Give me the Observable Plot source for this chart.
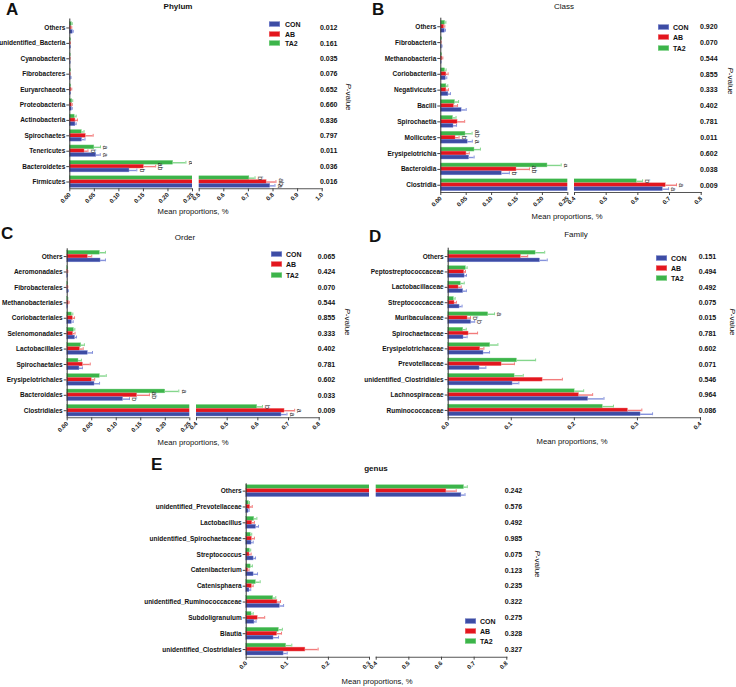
<!DOCTYPE html>
<html><head><meta charset="utf-8">
<script src="https://cdn.jsdelivr.net/npm/d3@7"></script>
<script src="https://cdn.jsdelivr.net/npm/@observablehq/plot@0.6"></script>
<style>
body{margin:0;background:#fff;}
#root{position:relative;width:736px;height:687px;overflow:hidden;font-family:"Liberation Sans",Arial,sans-serif;color:#111;}
.abs{position:absolute;white-space:nowrap;line-height:1;}
.letter{font-size:17px;font-weight:bold;}
.ctr{transform:translate(-50%,-50%);}
.title{font-size:8px;}
.xlab{font-size:7.7px;}
.pv{font-size:8px;writing-mode:vertical-rl;}
.leg{font-size:7px;font-weight:bold;transform:translateY(-50%);}
.sw{position:absolute;width:11px;height:5px;transform:translateY(-50%);}
</style></head><body><div id="root"></div><script>
// ---------- data ----------
const groupNames = ["CON", "AB", "TA2"];

// Phylum
const phylumCats = ["Others","unidentified_Bacteria","Cyanobacteria","Fibrobacteres","Euryarchaeota","Proteobacteria","Actinobacteria","Spirochaetes","Tenericutes","Bacteroidetes","Firmicutes"];
const phylumCON   = [0.006, 0.001, 0.0005, 0.002, 0.001, 0.004, 0.0115, 0.025, 0.054, 0.1216, 0.789];
const phylumCONse = [0.001, 0.0003, 0.0002, 0.0005, 0.0003, 0.001, 0.0015, 0.006, 0.008, 0.015, 0.019];
const phylumAB    = [0.003, 0.001, 0.0005, 0.0005, 0.003, 0.004, 0.0115, 0.0326, 0.030, 0.151, 0.774];
const phylumABse  = [0.001, 0.0003, 0.0002, 0.0002, 0.001, 0.001, 0.004, 0.015, 0.007, 0.024, 0.038];
const phylumTA2   = [0.004, 0.001, 0.0005, 0.001, 0.001, 0.005, 0.010, 0.0245, 0.050, 0.2106, 0.704];
const phylumTA2se = [0.001, 0.0003, 0.0002, 0.0003, 0.0005, 0.001, 0.003, 0.0045, 0.0125, 0.026, 0.023];
const phylumP = ["0.012","0.161","0.035","0.076","0.652","0.660","0.836","0.797","0.011","0.036","0.016"];
const phylumLetters = [["Tenericutes","TA2","a"],["Tenericutes","AB","b"],["Tenericutes","CON","a"],
  ["Bacteroidetes","TA2","a"],["Bacteroidetes","AB","ab"],["Bacteroidetes","CON","b"],
  ["Firmicutes","TA2","b"],["Firmicutes","AB","ab"],["Firmicutes","CON","a"]];
const phylumTicks = [0, 0.05, 0.10, 0.15, 0.20, 0.25, 0.5, 0.6, 0.7, 0.8, 0.9, 1.0];

// Class
const classCats = ["Others","Fibrobacteria","Methanobacteria","Coriobacteriia","Negativicutes","Bacilli","Spirochaetia","Mollicutes","Erysipelotrichia","Bacteroidia","Clostridia"];
const classCON   = [0.0079, 0.002, 0.0005, 0.0098, 0.015, 0.041, 0.025, 0.053, 0.0558, 0.120, 0.679];
const classCONse = [0.0013, 0.0004, 0.0002, 0.002, 0.004, 0.009, 0.006, 0.009, 0.0098, 0.015, 0.018];
const classAB    = [0.0066, 0.0005, 0.003, 0.011, 0.011, 0.026, 0.033, 0.029, 0.0505, 0.149, 0.688];
const classABse  = [0.0013, 0.0002, 0.001, 0.0034, 0.004, 0.007, 0.014, 0.007, 0.0055, 0.0255, 0.034];
const classTA2   = [0.0085, 0.001, 0.001, 0.0085, 0.011, 0.028, 0.024, 0.0486, 0.0663, 0.21, 0.597];
const classTA2se = [0.0015, 0.0003, 0.0003, 0.002, 0.0028, 0.007, 0.006, 0.013, 0.0117, 0.027, 0.018];
const classP = ["0.920","0.070","0.544","0.855","0.333","0.402","0.781","0.011","0.602","0.038","0.009"];
const classLetters = [["Mollicutes","TA2","ab"],["Mollicutes","AB","b"],["Mollicutes","CON","a"],
  ["Bacteroidia","TA2","a"],["Bacteroidia","AB","ab"],["Bacteroidia","CON","b"],
  ["Clostridia","TA2","b"],["Clostridia","AB","a"],["Clostridia","CON","a"]];
const classTicks = [0, 0.05, 0.10, 0.15, 0.20, 0.25, 0.4, 0.5, 0.6, 0.7, 0.8];

// Order
const orderCats = ["Others","Aeromonadales","Fibrobacterales","Methanobacteriales","Coriobacteriales","Selenomonadales","Lactobacillales","Spirochaetales","Erysipelotrichales","Bacteroidales","Clostridiales"];
const orderCON   = [0.068, 0.0005, 0.002, 0.0005, 0.0095, 0.016, 0.042, 0.025, 0.0557, 0.114, 0.677];
const orderCONse = [0.010, 0.0002, 0.0004, 0.0002, 0.0027, 0.003, 0.0096, 0.006, 0.0103, 0.013, 0.018];
const orderAB    = [0.042, 0.001, 0.001, 0.003, 0.0115, 0.012, 0.026, 0.032, 0.050, 0.1427, 0.687];
const orderABse  = [0.008, 0.0003, 0.0003, 0.001, 0.0035, 0.004, 0.0066, 0.015, 0.006, 0.025, 0.033];
const orderTA2   = [0.0666, 0.0005, 0.0005, 0.001, 0.0095, 0.0136, 0.0285, 0.023, 0.0666, 0.20, 0.598];
const orderTA2se = [0.0114, 0.0002, 0.0002, 0.0003, 0.002, 0.002, 0.0065, 0.006, 0.013, 0.0276, 0.017];
const orderP = ["0.065","0.424","0.070","0.544","0.855","0.333","0.402","0.781","0.602","0.033","0.009"];
const orderLetters = [["Bacteroidales","TA2","a"],["Bacteroidales","AB","ab"],["Bacteroidales","CON","b"],
  ["Clostridiales","TA2","b"],["Clostridiales","AB","a"],["Clostridiales","CON","a"]];
const orderTicks = [0, 0.05, 0.10, 0.15, 0.20, 0.25, 0.4, 0.5, 0.6, 0.7, 0.8];

// Family
const familyCats = ["Others","Peptostreptococcaceae","Lactobacillaceae","Streptococcaceae","Muribaculaceae","Spirochaetaceae","Erysipelotrichaceae","Prevotellaceae","unidentified_Clostridiales","Lachnospiraceae","Ruminococcaceae"];
const familyCON   = [0.1455, 0.026, 0.0238, 0.018, 0.0365, 0.0243, 0.056, 0.0497, 0.102, 0.222, 0.305];
const familyCONse = [0.0115, 0.003, 0.005, 0.004, 0.0055, 0.0057, 0.0096, 0.010, 0.010, 0.025, 0.019];
const familyAB    = [0.1153, 0.0254, 0.0164, 0.010, 0.0307, 0.0323, 0.0508, 0.0847, 0.1497, 0.2074, 0.285];
const familyABse  = [0.0107, 0.002, 0.0042, 0.003, 0.0047, 0.0143, 0.0058, 0.0203, 0.0313, 0.0216, 0.022];
const familyTA2   = [0.1386, 0.028, 0.020, 0.009, 0.0635, 0.0238, 0.0667, 0.109, 0.1053, 0.2005, 0.245];
const familyTA2se = [0.0144, 0.002, 0.0054, 0.002, 0.010, 0.0048, 0.0121, 0.0296, 0.0137, 0.0143, 0.017];
const familyP = ["0.151","0.494","0.492","0.075","0.015","0.781","0.602","0.071","0.546","0.964","0.086"];
const familyLetters = [["Muribaculaceae","TA2","a"],["Muribaculaceae","AB","b"],["Muribaculaceae","CON","b"]];
const familyTicks = [0, 0.1, 0.2, 0.3, 0.4];

// genus
const genusCats = ["Others","unidentified_Prevotellaceae","Lactobacillus","unidentified_Spirochaetaceae","Streptococcus","Catenibacterium","Catenisphaera","unidentified_Ruminococcaceae","Subdoligranulum","Blautia","unidentified_Clostridiales"];
const genusCON   = [0.661, 0.0057, 0.024, 0.013, 0.018, 0.018, 0.008, 0.082, 0.020, 0.0665, 0.091];
const genusCONse = [0.011, 0.0015, 0.006, 0.004, 0.0047, 0.0096, 0.003, 0.009, 0.004, 0.0122, 0.0088];
const genusAB    = [0.615, 0.0097, 0.0146, 0.0138, 0.008, 0.005, 0.0138, 0.076, 0.028, 0.0754, 0.144];
const genusABse  = [0.030, 0.005, 0.0054, 0.0062, 0.004, 0.002, 0.0032, 0.0075, 0.017, 0.0106, 0.031];
const genusTA2   = [0.669, 0.0065, 0.0195, 0.011, 0.009, 0.011, 0.0235, 0.0657, 0.013, 0.0795, 0.0973];
const genusTA2se = [0.010, 0.0015, 0.0065, 0.0025, 0.002, 0.004, 0.0105, 0.0063, 0.004, 0.0085, 0.0137];
const genusP = ["0.242","0.576","0.492","0.985","0.075","0.123","0.235","0.322","0.275","0.328","0.327"];
const genusLetters = [];
const genusTicks = [0, 0.1, 0.2, 0.3, 0.4, 0.5, 0.6, 0.7, 0.8];

// ---------- drawing ----------
const fillColor = {CON: "#3d4ca4", AB: "#e3161e", TA2: "#3cb44a"};
const lightColor = {CON: "#8592dc", AB: "#f27b7b", TA2: "#84d68c"};
const rowOrder = ["TA2", "AB", "CON"]; // top to bottom within a category
const root = document.getElementById("root");

function addDiv(text, x, y, cls, html) {
  const d = document.createElement("div");
  d.className = "abs " + cls;
  d.style.left = x + "px";
  d.style.top = y + "px";
  if (html) d.innerHTML = text; else d.textContent = text;
  root.appendChild(d);
  return d;
}

function legend(swX, labX, ys) {
  groupNames.forEach((g, i) => {
    const s = document.createElement("div");
    s.className = "sw";
    s.style.left = swX + "px"; s.style.top = ys[i] + "px";
    s.style.background = fillColor[g];
    s.style.boxShadow = "inset 0 0 0 0.6px " + lightColor[g];
    root.appendChild(s);
    addDiv(g, labX, ys[i], "leg");
  });
}

function buildPanel(cfg) {
  const {left, top, width, height, cats, CON, AB, TA2, CONse, ABse, TA2se, pvals, letters,
         xDomain, xRange, yRange, frameTop, frameBottom, ticks, fmt, pvDx} = cfg;
  const means = {CON, AB, TA2}, ses = {CON: CONse, AB: ABse, TA2: TA2se};
  const letterOf = {};
  letters.forEach(([c, g, l]) => { letterOf[c + "|" + g] = l; });
  const rows = [], keys = [];
  cats.forEach((c, i) => {
    rowOrder.forEach(g => {
      const key = c + "|" + g;
      keys.push(key);
      rows.push({key, group: g, value: means[g][i], se: ses[g][i], letter: letterOf[key] || ""});
    });
    if (i < cats.length - 1) keys.push(c + "|gap");
  });
  // broken axis: values are mapped onto a continuous "axis length" coordinate,
  // which the Plot linear x scale then positions.
  const brk = xDomain.length === 4;
  const f = v => {
    if (!brk) return (v - xDomain[0]) / (xDomain[1] - xDomain[0]) * (xRange[1] - xRange[0]);
    const [d0, d1, d2, d3] = xDomain, [p0, p1, p2, p3] = xRange;
    if (v <= d1) return (v - d0) / (d1 - d0) * (p1 - p0);
    return (p2 - p0) + (v - d2) / (d3 - d2) * (p3 - p2);
  };
  const xr = [xRange[0] - left, xRange[xRange.length - 1] - left];
  const span = xRange[xRange.length - 1] - xRange[0];
  const yr = yRange.map(v => v - top);
  const mL = xr[0], mR = width - xr[1];
  const mT = frameTop - top, mB = height - (frameBottom - top);
  const tickPos = ticks.map(f);
  const tickLabel = v => {
    let best = 0;
    tickPos.forEach((p, i) => { if (Math.abs(p - v) < Math.abs(tickPos[best] - v)) best = i; });
    return fmt(ticks[best]);
  };

  const marks = [];
  for (const g of rowOrder) {
    const d = rows.filter(r => r.group === g);
    marks.push(Plot.barX(d, {x1: () => 0, x2: r => f(r.value), y: "key", fill: fillColor[g], stroke: lightColor[g], strokeWidth: 0.4}));
  }
  for (const g of rowOrder) {
    const d = rows.filter(r => r.group === g);
    marks.push(Plot.ruleY(d, {y: "key", x1: r => f(r.value), x2: r => f(r.value + r.se), stroke: lightColor[g], strokeWidth: 1.4}));
    marks.push(Plot.tickX(d, {x: r => f(r.value + r.se), y: "key", stroke: lightColor[g], strokeWidth: 1, insetTop: 0.5, insetBottom: 0.5}));
  }
  marks.push(Plot.text(rows.filter(r => r.letter), {x: r => f(r.value + r.se), y: "key", text: "letter", rotate: 90,
    dx: 5, textAnchor: "middle", fontSize: 7, fontWeight: "normal", fill: "#222"}));
  marks.push(Plot.frame({anchor: "bottom", stroke: "#555", strokeWidth: 1.1}));
  if (brk) {
    marks.push(Plot.rect([0], {x1: () => f(xDomain[1]), x2: () => f(xDomain[2]), fill: "white", insetBottom: -2}));
  }
  marks.push(Plot.ruleX([0], {stroke: "#333", strokeWidth: 1}));
  marks.push(Plot.axisX({ticks: tickPos, tickFormat: tickLabel, tickRotate: -45, tickSize: 3, tickPadding: 2, fontSize: 6, label: null, stroke: "#444"}));
  marks.push(Plot.axisY({ticks: cats.map(c => c + "|AB"), tickFormat: k => k.split("|")[0], tickSize: 3,
    tickPadding: 1.5, fontSize: 6.5, label: null, stroke: "#444"}));
  marks.push(Plot.text(cats, {y: c => c + "|AB", text: (c, i) => pvals[i], frameAnchor: "right", dx: pvDx,
    textAnchor: "middle", fontSize: 7}));

  const svg = Plot.plot({
    width, height,
    marginLeft: mL, marginRight: mR, marginTop: mT, marginBottom: mB,
    x: {type: "linear", domain: [0, span], range: xr},
    y: {type: "band", domain: keys, range: yr, padding: 0},
    style: {fontFamily: "'Liberation Sans', Arial, sans-serif", fontWeight: "bold", background: "transparent",
            overflow: "visible", maxWidth: "none", color: "#111"},
    marks
  });
  const holder = document.createElement("div");
  holder.className = "abs";
  holder.style.left = left + "px";
  holder.style.top = top + "px";
  holder.appendChild(svg);
  root.appendChild(holder);
}

const fmtBreak = d => d <= 0.25 ? d.toFixed(2) : d.toFixed(1);
const fmt1 = d => d.toFixed(1);

// Panel A
buildPanel({left: 0, top: 15, width: 365, height: 205, cats: phylumCats,
  CON: phylumCON, AB: phylumAB, TA2: phylumTA2, CONse: phylumCONse, ABse: phylumABse, TA2se: phylumTA2se,
  pvals: phylumP, letters: phylumLetters, xDomain: [0, 0.25, 0.5, 1.0], xRange: [69.3, 192, 198.7, 321.7],
  yRange: [21.7, 187.3], frameTop: 18.5, frameBottom: 188.3, ticks: phylumTicks, fmt: fmtBreak, pvDx: 6.5});
// Panel B
buildPanel({left: 365, top: 15, width: 371, height: 205, cats: classCats,
  CON: classCON, AB: classAB, TA2: classTA2, CONse: classCONse, ABse: classABse, TA2se: classTA2se,
  pvals: classP, letters: classLetters, xDomain: [0, 0.25, 0.4, 0.8], xRange: [440.3, 567.3, 574, 700.7],
  yRange: [20.3, 190.7], frameTop: 17.7, frameBottom: 192, ticks: classTicks, fmt: fmtBreak, pvDx: 7.6});
// Panel C
buildPanel({left: 0, top: 240, width: 365, height: 200, cats: orderCats,
  CON: orderCON, AB: orderAB, TA2: orderTA2, CONse: orderCONse, ABse: orderABse, TA2se: orderTA2se,
  pvals: orderP, letters: orderLetters, xDomain: [0, 0.25, 0.4, 0.8], xRange: [66.7, 189.3, 196, 318.7],
  yRange: [250.3, 416], frameTop: 248.3, frameBottom: 417.3, ticks: orderTicks, fmt: fmtBreak, pvDx: 7.3});
// Panel D
buildPanel({left: 360, top: 240, width: 376, height: 200, cats: familyCats,
  CON: familyCON, AB: familyAB, TA2: familyTA2, CONse: familyCONse, ABse: familyABse, TA2se: familyTA2se,
  pvals: familyP, letters: familyLetters, xDomain: [0, 0.4], xRange: [447.7, 700],
  yRange: [250.3, 415.7], frameTop: 247.7, frameBottom: 417.3, ticks: familyTicks, fmt: fmt1, pvDx: 7});
// Panel E
buildPanel({left: 140, top: 475, width: 420, height: 200, cats: genusCats,
  CON: genusCON, AB: genusAB, TA2: genusTA2, CONse: genusCONse, ABse: genusABse, TA2se: genusTA2se,
  pvals: genusP, letters: genusLetters, xDomain: [0, 0.3, 0.4, 0.8], xRange: [245.7, 369, 375.7, 506.3],
  yRange: [484.7, 655], frameTop: 483.3, frameBottom: 656.7, ticks: genusTicks, fmt: fmt1, pvDx: 6.7});

// Panel letters
addDiv("A", 6, 1, "letter");
addDiv("B", 372, 1, "letter");
addDiv("C", 1, 225, "letter");
addDiv("D", 369, 228, "letter");
addDiv("E", 151, 456, "letter");

// Titles
addDiv("Phylum", 178, 7, "title ctr").style.fontWeight = "bold";
addDiv("Class", 564, 7, "title ctr");
addDiv("Order", 185, 238, "title ctr");
addDiv("Family", 576, 235, "title ctr");
addDiv("genus", 376, 469, "title ctr").style.fontWeight = "bold";

// x labels
addDiv("Mean proportions, %", 193, 212, "xlab ctr");
addDiv("Mean proportions, %", 567, 217, "xlab ctr");
addDiv("Mean proportions, %", 193, 443, "xlab ctr");
addDiv("Mean proportions, %", 572, 442, "xlab ctr");
addDiv("Mean proportions, %", 377, 682, "xlab ctr");

// P-value labels
const pvHtml = "<i>P</i>-value";
addDiv(pvHtml, 348, 97, "pv ctr", true);
addDiv(pvHtml, 730, 81, "pv ctr", true);
addDiv(pvHtml, 347, 322, "pv ctr", true);
addDiv(pvHtml, 732, 322, "pv ctr", true);
addDiv(pvHtml, 537, 564, "pv ctr", true);

// Legends
legend(269, 285, [23.5, 33.5, 43.3]);
legend(658, 673, [26.5, 37, 48]);
legend(271, 286, [254.3, 264, 274.5]);
legend(656, 671, [257.7, 267.7, 277.7]);
legend(465, 480, [620.7, 631, 641.3]);
</script></body></html>
